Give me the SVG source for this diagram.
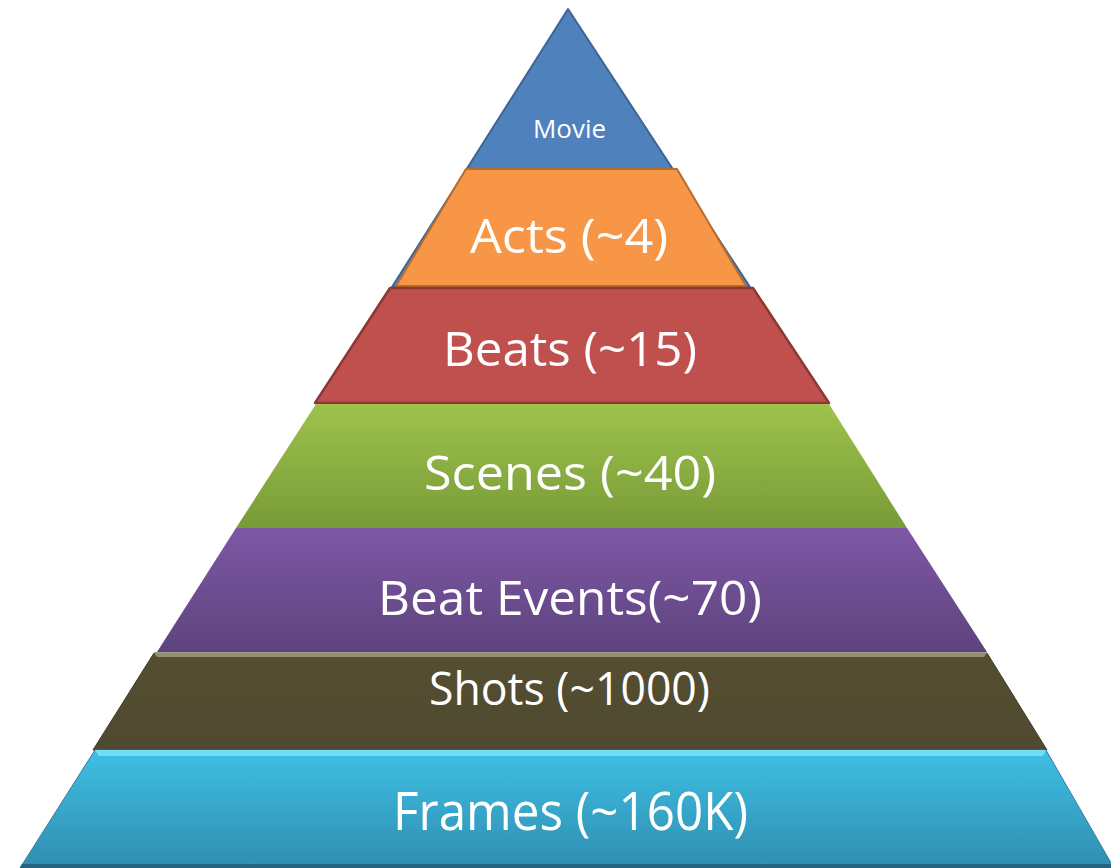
<svg xmlns="http://www.w3.org/2000/svg" width="1111" height="868" viewBox="0 0 1111 868">
  <defs>
    <linearGradient id="gGreen" x1="0" y1="0" x2="0" y2="1">
      <stop offset="0" stop-color="#9EC34B"/>
      <stop offset="1" stop-color="#789A38"/>
    </linearGradient>
    <linearGradient id="gPurple" x1="0" y1="0" x2="0" y2="1">
      <stop offset="0" stop-color="#7D58A6"/>
      <stop offset="1" stop-color="#5E437D"/>
    </linearGradient>
    <linearGradient id="gShots" x1="0" y1="0" x2="0" y2="1">
      <stop offset="0" stop-color="#554E31"/>
      <stop offset="1" stop-color="#4E4930"/>
    </linearGradient>
    <linearGradient id="gFrames" x1="0" y1="0" x2="0" y2="1">
      <stop offset="0" stop-color="#3EBFE4"/>
      <stop offset="1" stop-color="#2F8EB0"/>
    </linearGradient>
  </defs>
  <style>
    .label { font-family: "Open Sans", "Lato", "Liberation Sans", sans-serif; fill: #FFFFFF; text-anchor: middle; }
  </style>

  <rect width="1111" height="868" fill="#FFFFFF"/>

  <!-- apex tier (extends behind the orange tier) -->
  <g id="movie">
    <polygon points="568,9 750,287 392,287" fill="#4F81BD" stroke="#3D6596" stroke-width="2" stroke-linejoin="round"/>
    <text class="label" x="569.5" y="138" font-size="25" textLength="73" lengthAdjust="spacingAndGlyphs">Movie</text>
  </g>

  <g id="acts">
    <polygon points="466,169 677,169 746,286 396,286" fill="#F79646" stroke="#B66D31" stroke-width="2" stroke-linejoin="round"/>
    <text class="label" x="569" y="253" font-size="48" textLength="198" lengthAdjust="spacingAndGlyphs">Acts (~4)</text>
  </g>

  <g id="beats">
    <polygon points="390,288 753,288 829,403 315,403" fill="#C0504D" stroke="#8C3836" stroke-width="2.5" stroke-linejoin="round"/>
    <text class="label" x="570" y="366" font-size="48" textLength="254" lengthAdjust="spacingAndGlyphs">Beats (~15)</text>
  </g>

  <g id="scenes">
    <polygon points="316,404 829,404 907,528 236,528" fill="url(#gGreen)"/>
    <text class="label" x="570" y="490" font-size="48" textLength="292" lengthAdjust="spacingAndGlyphs">Scenes (~40)</text>
  </g>

  <g id="beat-events">
    <polygon points="236,528 907,528 987,652 157,652" fill="url(#gPurple)"/>
    <text class="label" x="570" y="615" font-size="48" textLength="384" lengthAdjust="spacingAndGlyphs">Beat Events(~70)</text>
  </g>

  <g id="shots">
    <polygon points="154,653 987,653 1047,750 93,750" fill="url(#gShots)" stroke="#3E3A24" stroke-width="1"/>
    <polygon points="154,653 987,653 984,657 157,657" fill="#948F6C"/>
    <text class="label" x="569.5" y="705" font-size="45" textLength="281" lengthAdjust="spacingAndGlyphs">Shots (~1000)</text>
  </g>

  <g id="frames">
    <polygon points="95,750 1046,750 1114,868 20,868" fill="url(#gFrames)" stroke="#3A78A8" stroke-width="1"/>
    <polygon points="95,750 1046,750 1043,756 99,756" fill="#74DDF6"/>
    <polygon points="22,864 1112,864 1114,868 20,868" fill="#25647C"/>
    <text class="label" x="570.5" y="830" font-size="53" textLength="355" lengthAdjust="spacingAndGlyphs">Frames (~160K)</text>
  </g>

  <g id="connectors"/>
</svg>
